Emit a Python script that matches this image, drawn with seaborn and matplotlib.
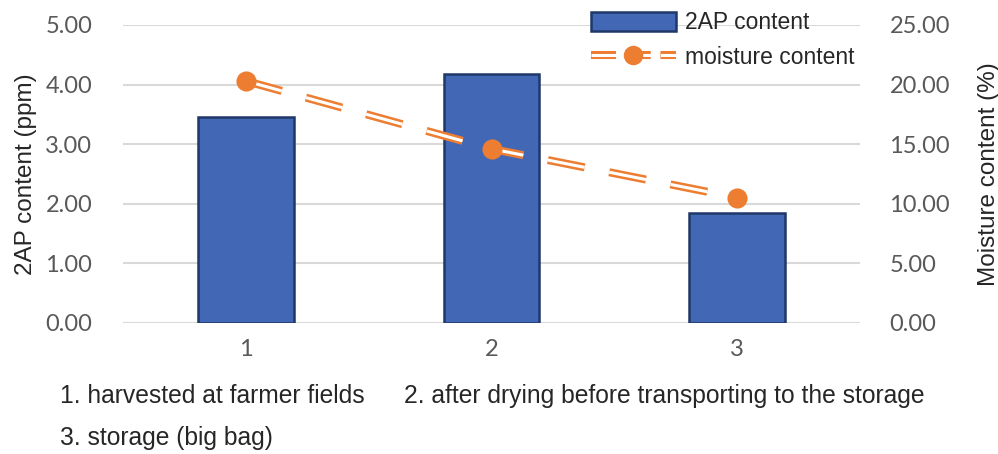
import matplotlib
matplotlib.use("Agg")
import matplotlib.pyplot as plt
import seaborn as sns
import pandas as pd
from matplotlib.lines import Line2D
from matplotlib.patches import Patch
from matplotlib.legend_handler import HandlerTuple

# data
stages = ["1", "2", "3"]
ap_content = [3.46, 4.18, 1.85]
moisture = [20.3, 14.6, 10.5]
left_ticks = [0, 1, 2, 3, 4, 5]
right_ticks = [0, 5, 10, 15, 20, 25]
notes = ["1. harvested at farmer fields",
         "2. after drying before transporting to the storage",
         "3. storage (big bag)"]

df = pd.DataFrame({"stage": stages, "ap": ap_content, "moist": moisture})

sns.set_style("white")
plt.rcParams["font.family"] = ["Liberation Sans", "DejaVu Sans"]
plt.rcParams["lines.scale_dashes"] = False

blue = "#4268B5"
edge = "#1F3868"
orange = "#ED7D31"
grid_c = "#D9D9D9"
tick_c = "#595959"
txt_c = "#262626"

fig = plt.figure(figsize=(9.98, 4.54), dpi=100)
ax = fig.add_axes([0.123, 0.289, 0.739, 0.656])

sns.barplot(data=df, x="stage", y="ap", ax=ax, color=blue, width=0.39,
            edgecolor=edge, linewidth=1.8, saturation=1, zorder=3)
ax.set_ylim(0, 5)
ax.set_yticks(left_ticks)
ax.set_yticklabels([f"{v:.2f}" for v in left_ticks])
ax.yaxis.grid(True, color=grid_c, linewidth=1.5, zorder=0)
ax.set_axisbelow(True)
for s in ax.spines.values():
    s.set_visible(False)
ax.tick_params(axis="y", length=0, labelsize=17, colors=tick_c, pad=22)
ax.tick_params(axis="x", length=0, labelsize=17, colors=tick_c, pad=12)
for lab in ax.get_xticklabels() + ax.get_yticklabels():
    lab.set_family(["Lato", "DejaVu Sans"])
ax.set_xlabel("")
ax.set_ylabel("2AP content (ppm)", fontsize=17.5, color=txt_c, labelpad=6)

ax2 = ax.twinx()
dash = (0, (27, 18))
sns.lineplot(data=df, x="stage", y="moist", ax=ax2, color=orange,
             linewidth=5.8, linestyle=dash, zorder=4)
sns.lineplot(data=df, x="stage", y="moist", ax=ax2, color="white",
             linewidth=2.2, linestyle=dash, zorder=5)
sns.scatterplot(data=df, x="stage", y="moist", ax=ax2, color=orange,
                s=180, edgecolor=orange, zorder=6)
ax2.set_ylim(0, 25)
ax2.set_yticks(right_ticks)
ax2.set_yticklabels([f"{v:.2f}" for v in right_ticks])
for s in ax2.spines.values():
    s.set_visible(False)
ax2.tick_params(length=0, labelsize=17, colors=tick_c, pad=21)
for lab in ax2.get_yticklabels():
    lab.set_family(["Lato", "DejaVu Sans"])
ax2.set_ylabel("Moisture content (%)", fontsize=17.5, color=txt_c, labelpad=20)
ax2.set_xlabel("")
ax.set_xlim(-0.5, 2.5)

# legend
h_bar = Patch(facecolor=blue, edgecolor=edge, linewidth=1.8)
h_l1 = Line2D([], [], color=orange, linewidth=5.8, linestyle=(0, (18, 7)))
h_l2 = Line2D([], [], color="white", linewidth=2.2, linestyle=(0, (18, 7)))
h_mk = Line2D([], [], color=orange, marker="o", markersize=13, linestyle="none")
leg = ax2.legend([h_bar, (h_l1, h_l2, h_mk)], ["2AP content", "moisture content"],
                 handler_map={tuple: HandlerTuple(ndivide=1)},
                 loc="upper left", bbox_to_anchor=(0.592, 0.975),
                 bbox_transform=fig.transFigure, frameon=False,
                 fontsize=16.5, handlelength=3.7, handleheight=0.9,
                 labelspacing=0.5, handletextpad=0.4, borderaxespad=0,
                 borderpad=0)
for t in leg.get_texts():
    t.set_color(txt_c)

fig.text(0.060, 0.128, notes[0], fontsize=17.7, color=txt_c, va="center")
fig.text(0.405, 0.128, notes[1], fontsize=17.7, color=txt_c, va="center")
fig.text(0.060, 0.035, notes[2], fontsize=17.7, color=txt_c, va="center")

fig.savefig("out.png", dpi=100)
